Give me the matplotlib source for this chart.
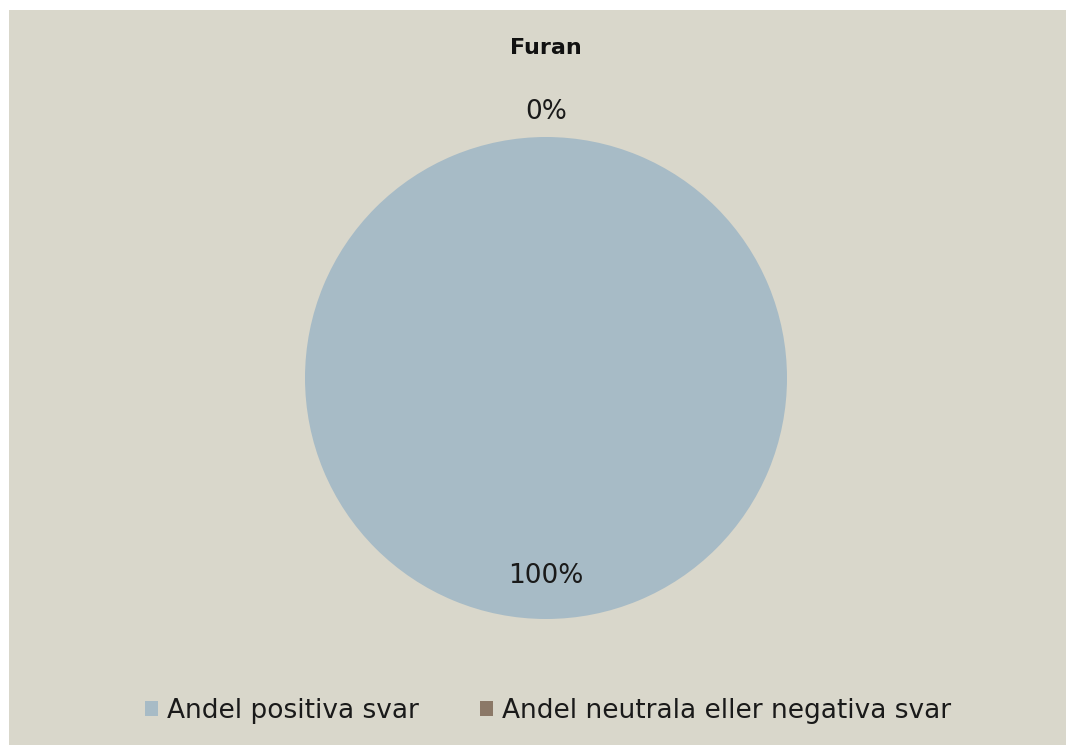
import numpy as np
import matplotlib.pyplot as plt
from matplotlib.patches import Rectangle, Patch

# data
title = 'Furan'
categories = ['Andel positiva svar', 'Andel neutrala eller negativa svar']
values = [100, 0]
colors = ['#A7BBC6', '#8B7867']

W, H = 1066, 745
fig = plt.figure(figsize=(W / 100, H / 100), dpi=100)
fig.patch.set_facecolor('white')

# beige chart area with a thin white margin on top/left
fig.add_artist(Rectangle((9 / W, 0), 1 - 9 / W, 1 - 10 / H, transform=fig.transFigure,
                         facecolor='#D9D7CB', edgecolor='none', zorder=-10))

cx, cy, r = 546, 378, 241
ax = fig.add_axes([(cx - r) / W, (H - cy - r) / H, 2 * r / W, 2 * r / H])
wedges, _ = ax.pie(values, colors=colors, startangle=90, counterclock=False,
                   wedgeprops=dict(linewidth=0))
ax.set_xlim(-1, 1)
ax.set_ylim(-1, 1)
ax.set_aspect('equal')
ax.axis('off')

total = sum(values)
for w, v in zip(wedges, values):
    ang = np.deg2rad((w.theta1 + w.theta2) / 2)
    dist = 0.82 if v > 0 else 1.105
    ax.text(dist * np.cos(ang), dist * np.sin(ang), f'{v / total:.0%}',
            ha='center', va='center', fontsize=19, color='#1a1a1a', clip_on=False)

fig.text(cx / W, 1 - 48 / H, title, ha='center', va='center',
         fontsize=16, fontweight='bold', color='#111111')

handles = [Patch(facecolor=c, edgecolor='none') for c in colors]
fig.legend(handles, categories, loc='center', bbox_to_anchor=(548 / W, 1 - 711 / H),
           ncol=2, frameon=False, fontsize=19, handlelength=0.5, handleheight=0.5,
           handletextpad=0.35, columnspacing=2.3, labelcolor='#1a1a1a')

fig.savefig('out.png', dpi=100)
